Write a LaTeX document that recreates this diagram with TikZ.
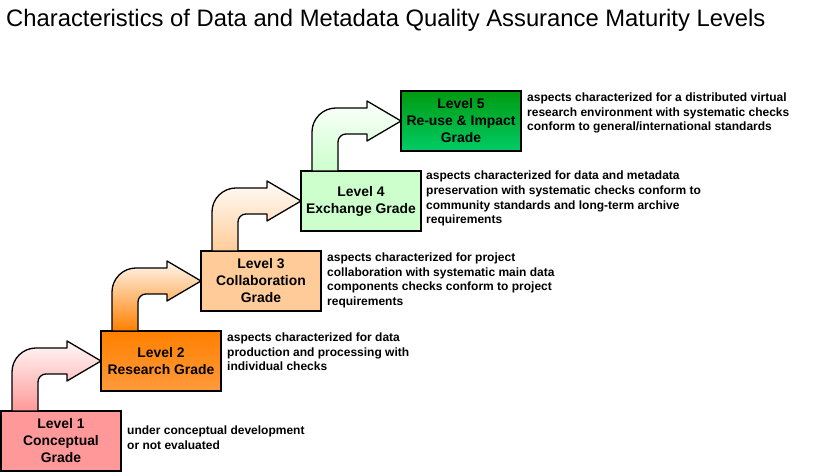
\documentclass[tikz,border=0pt]{standalone}
\usepackage{fontspec}
\setmainfont{Liberation Sans}
\usetikzlibrary{positioning, calc}
\definecolor{conceptpink}{HTML}{FF9999}
\definecolor{researchtop}{HTML}{FF8000}
\definecolor{researchbot}{HTML}{FF9A3C}
\definecolor{collabpeach}{HTML}{FFCC99}
\definecolor{exchangemint}{HTML}{CCFFCC}
\definecolor{reusetop}{HTML}{009A10}
\definecolor{reusebot}{HTML}{00CC66}
\tikzset{
  levelbox/.style={rectangle, draw, line width=1.2pt, outer sep=0pt, minimum width=120pt, minimum height=60pt, inner sep=0pt, align=center, font=\fontsize{13.9}{17}\selectfont\bfseries},
  notetext/.style={anchor=north west, align=left, inner sep=0pt, font=\fontsize{12}{14.7}\selectfont\bfseries},
  steparrow/.style={draw, line width=1.3pt, line join=round, top color=#1!6, bottom color=#1},
}
\begin{document}
\begin{tikzpicture}[x=1pt, y=1pt]
    \useasboundingbox (0,0) rectangle (823,476);
    \node[anchor=base west, inner sep=0pt, font=\fontsize{23.8}{26}\selectfont] (title) at (6,449) {Characteristics of Data and Metadata Quality Assurance Maturity Levels};
    % the five grades, one step up and to the right each
    \node[levelbox, fill=conceptpink] (l1) at (61,35) {Level 1\\Conceptual\\Grade};
    \node[levelbox, top color=researchtop, bottom color=researchbot, above right=20pt and -20pt of l1] (l2) {Level 2\\Research Grade};
    \node[levelbox, fill=collabpeach, above right=20pt and -20pt of l2] (l3) {Level 3\\Collaboration\\Grade};
    \node[levelbox, fill=exchangemint, above right=20pt and -20pt of l3] (l4) {Level 4\\Exchange Grade};
    \node[levelbox, top color=reusetop, bottom color=reusebot, above right=20pt and -20pt of l4] (l5) {Level 5\\Re-use \& Impact\\Grade};
    % descriptions
    \node[notetext, anchor=west] (n1) at ([xshift=6pt, yshift=3pt]l1.east) {under conceptual development\\or not evaluated};
    \node[notetext] (n2) at ([xshift=6pt, yshift=-1.5pt]l2.north east) {aspects characterized for data\\production and processing with\\individual checks};
    \node[notetext] (n3) at ([xshift=6pt, yshift=-1.5pt]l3.north east) {aspects characterized for project\\collaboration with systematic main data\\components checks conform to project\\requirements};
    \node[notetext] (n4) at ([xshift=5pt, yshift=0pt]l4.north east) {aspects characterized for data and metadata\\preservation with systematic checks conform to\\community standards and long-term archive\\requirements};
    \node[notetext] (n5) at ([xshift=6pt, yshift=-1.5pt]l5.north east) {aspects characterized for a distributed virtual\\research environment with systematic checks\\conform to general/international standards};
    % bent arrows from each grade to the next
    \foreach \lo/\hi/\tint in {l1/l2/conceptpink, l2/l3/researchtop, l3/l4/collabpeach, l4/l5/exchangemint} {
      \draw[steparrow=\tint] let \p1=(\lo.north west), \p2=(\hi.west) in
        (\x1+11pt,\y1) -- (\x1+11pt,\y2-11pt) arc[start angle=180, end angle=90, radius=24pt]
        -- (\x2-34pt,\y2+13pt) -- (\x2-34pt,\y2+20pt) -- (\p2) -- (\x2-34pt,\y2-20pt) -- (\x2-34pt,\y2-13pt)
        -- (\x1+45pt,\y2-13pt) arc[start angle=90, end angle=180, radius=8pt] -- (\x1+37pt,\y1) -- cycle;
    }
  \end{tikzpicture}
\end{document}
